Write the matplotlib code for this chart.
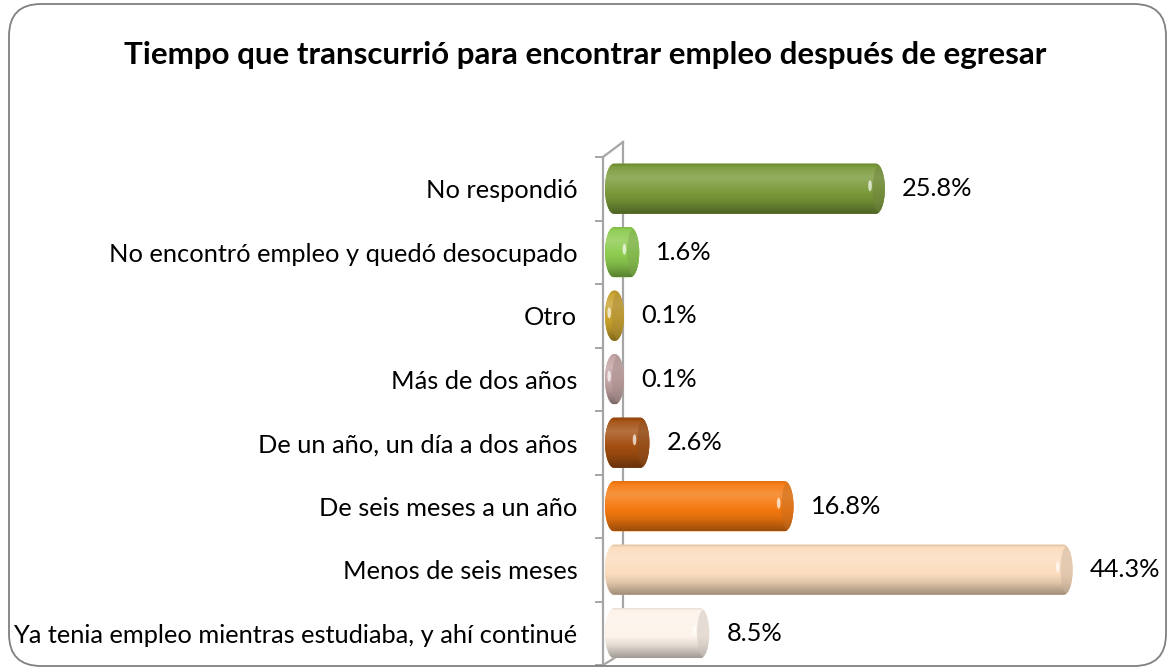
import numpy as np
import matplotlib
matplotlib.use("Agg")
import matplotlib.pyplot as plt
from matplotlib.path import Path
from matplotlib.patches import PathPatch, Ellipse, FancyBboxPatch
from matplotlib.transforms import IdentityTransform
from matplotlib.colors import to_rgb
from matplotlib.lines import Line2D

categories = [
    "No respondió",
    "No encontró empleo y quedó desocupado",
    "Otro",
    "Más de dos años",
    "De un año, un día a dos años",
    "De seis meses a un año",
    "Menos de seis meses",
    "Ya tenia empleo mientras estudiaba, y ahí continué",
]
values = [25.8, 1.6, 0.1, 0.1, 2.6, 16.8, 44.3, 8.5]
value_labels = ["25.8%", "1.6%", "0.1%", "0.1%", "2.6%", "16.8%", "44.3%", "8.5%"]
colors = ["#7A9A3A", "#8CCB4E", "#C9A22C", "#C3A3A3", "#A34E10", "#F5790F", "#FCDDBE", "#FDF3EA"]
title = "Tiempo que transcurrió para encontrar empleo después de egresar"

FONT = ["Lato", "DejaVu Sans"]
plt.rcParams["font.family"] = FONT

W, H, DPI = 1170, 669, 100
fig = plt.figure(figsize=(W / DPI, H / DPI), dpi=DPI)
fig.patch.set_facecolor("white")

# layout in pixels
ax_left, ax_right = 603, 1150
ax_top, ax_bot = 157, 665
zero_px = 614
slope = 10.15  # px per unit
xmin = -(zero_px - ax_left) / slope
xmax = xmin + (ax_right - ax_left) / slope

ax = fig.add_axes([ax_left / W, (H - ax_bot) / H, (ax_right - ax_left) / W, (ax_bot - ax_top) / H])
ax.set_xlim(xmin, xmax)
n = len(categories)
ax.set_ylim(n - 0.5, -0.5)
ax.patch.set_alpha(0)

ypos = np.arange(n)
bh = 0.79
bars = ax.barh(ypos, values, height=bh, color=colors, linewidth=0, zorder=2)

r_units = 9.0 / slope  # cap half-width in data units


def shade(c, f):
    c = np.array(to_rgb(c))
    if f >= 0:
        return c + (1 - c) * f
    return c * (1 + f)


for rect, c, v, lab in zip(bars, colors, values, value_labels):
    x0 = rect.get_x()
    w = rect.get_width()
    y0 = rect.get_y()
    hh = rect.get_height()
    yc = y0 + hh / 2
    x1 = x0 + w
    t = np.linspace(-np.pi / 2, np.pi / 2, 60)
    right = np.column_stack([x1 + r_units * np.cos(t), yc - (hh / 2) * np.sin(t)])
    t2 = np.linspace(np.pi / 2, 3 * np.pi / 2, 60)
    left = np.column_stack([x0 + r_units * np.cos(t2), yc - (hh / 2) * np.sin(t2)])
    verts = np.vstack([right, left, right[:1]])
    path = Path(verts)
    rect.set_visible(False)
    outline = PathPatch(path, facecolor=c, edgecolor="none", zorder=2)
    ax.add_patch(outline)
    # vertical gradient
    prof_pos = np.array([0.0, 0.08, 0.28, 0.5, 0.75, 0.92, 1.0])
    prof_f = np.array([-0.15, 0.05, 0.20, 0.05, -0.10, -0.28, -0.36])
    yy = np.linspace(0, 1, 100)
    fvals = np.interp(yy, prof_pos, prof_f)
    grad = np.array([shade(c, f) for f in fvals]).reshape(100, 1, 3)
    im = ax.imshow(grad, extent=(x0 - r_units, x1 + r_units, y0 + hh, y0), aspect="auto",
                   zorder=3, interpolation="bilinear")
    im.set_clip_path(outline)
    # end face
    face_col = np.clip(np.array(to_rgb(c)) * 0.8 + np.array([0.5, 0.47, 0.45]) * 0.2, 0, 1) * 0.9
    face = Ellipse((x1 + r_units * 0.35, yc), width=r_units * 1.4, height=hh * 0.94,
                   facecolor=face_col, edgecolor="none", alpha=0.5, zorder=4)
    ax.add_patch(face)
    face.set_clip_path(outline)
    # highlight
    hl = Ellipse((x1 - r_units * 0.65, yc - hh * 0.06), width=r_units * 0.4, height=hh * 0.22,
                 facecolor="white", edgecolor="none", alpha=0.7, zorder=5)
    ax.add_patch(hl)
    hl.set_clip_path(outline)
    ax.annotate(lab, xy=(x1 + r_units, yc), xytext=(17, 0), textcoords="offset pixels",
                ha="left", va="center", fontsize=18.3, color="black", zorder=6)

# axis styling
for s in ["top", "right", "bottom"]:
    ax.spines[s].set_visible(False)
ax.spines["left"].set_color("#A6A6A6")
ax.spines["left"].set_linewidth(1.6)
ax.set_xticks([])
ax.set_yticks(np.arange(-0.5, n, 1.0))
ax.set_yticklabels([])
ax.tick_params(axis="y", which="major", length=6, width=1.4, color="#A6A6A6", direction="out")
ax.set_yticks(ypos, minor=True)
ax.set_yticklabels(categories, minor=True, fontsize=18.3)
ax.tick_params(axis="y", which="minor", length=0, pad=18.5)

# back wall lines (pixel coords), drawn behind the bars
def px(x, y):
    return (x / W, (H - y) / H)

gray = "#A6A6A6"
for (xa, ya), (xb, yb) in [((603, 157), (623, 142)), ((623, 142), (623, 653)), ((603, 665), (623, 653))]:
    p1, p2 = px(xa, ya), px(xb, yb)
    fig.add_artist(Line2D([p1[0], p2[0]], [p1[1], p2[1]], transform=fig.transFigure,
                          color=gray, linewidth=1.6, zorder=-1))

# title
fig.text(585 / W, (H - 55) / H, title, ha="center", va="center", fontsize=22.5,
         fontweight="bold", color="black")

# rounded border
border = FancyBboxPatch((9, 3), 1157, 662, boxstyle="round,pad=0,rounding_size=32",
                        transform=IdentityTransform(), facecolor="none", edgecolor="#808080",
                        linewidth=1.3, zorder=10)
fig.add_artist(border)

fig.savefig("out.png", dpi=DPI)
